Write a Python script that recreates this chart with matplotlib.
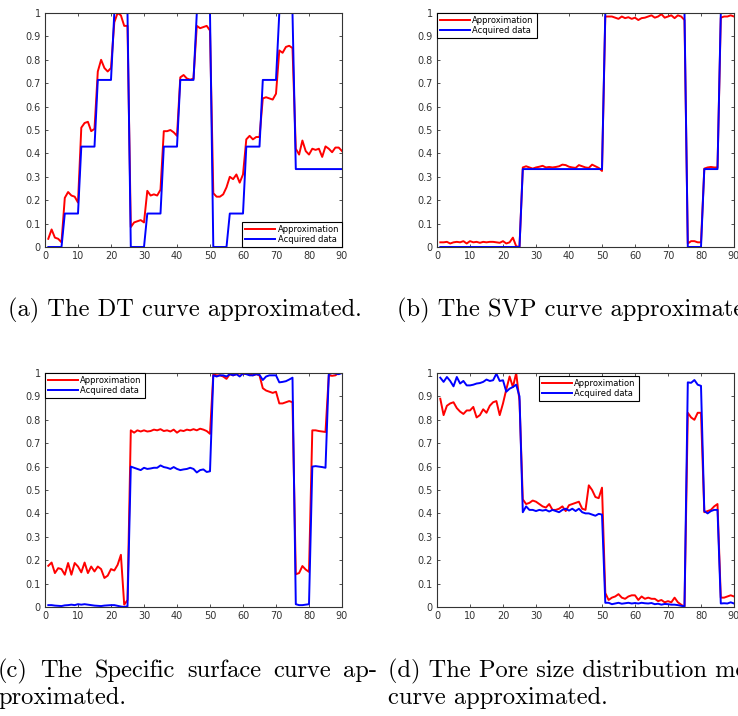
import numpy as np
import matplotlib
matplotlib.use("Agg")
import matplotlib.pyplot as plt

# sample index along the x axis
sample = np.arange(1, 91)

# (a) DT curve
dt_approx = [0.035, 0.075, 0.04, 0.035, 0.02, 0.21, 0.235, 0.22, 0.215, 0.19,
             0.51, 0.53, 0.535, 0.495, 0.505, 0.75, 0.80, 0.765, 0.75, 0.765,
             0.96, 1.0, 0.99, 0.945, 0.945, 0.085, 0.105, 0.11, 0.115, 0.105,
             0.24, 0.22, 0.225, 0.22, 0.245, 0.495, 0.495, 0.50, 0.49, 0.475,
             0.725, 0.735, 0.72, 0.715, 0.72, 0.945, 0.935, 0.94, 0.945, 0.925,
             0.23, 0.215, 0.215, 0.225, 0.255, 0.30, 0.29, 0.31, 0.275, 0.31,
             0.46, 0.475, 0.46, 0.47, 0.47, 0.635, 0.64, 0.635, 0.63, 0.655,
             0.84, 0.83, 0.855, 0.86, 0.85, 0.42, 0.395, 0.455, 0.41, 0.395,
             0.42, 0.415, 0.42, 0.385, 0.43, 0.42, 0.405, 0.425, 0.425, 0.41]
dt_data = ([0.0] * 5 + [0.143] * 5 + [0.429] * 5 + [0.714] * 5 + [1.0] * 5) * 3 \
    + [0.333] * 15

# (b) SVP curve
svp_approx = [0.02, 0.02, 0.022, 0.015, 0.02, 0.022, 0.02, 0.025, 0.015, 0.025,
              0.02, 0.022, 0.018, 0.022, 0.02, 0.022, 0.022, 0.02, 0.018, 0.025,
              0.015, 0.02, 0.04, 0.003, 0.0, 0.34, 0.345, 0.34, 0.335, 0.34,
              0.343, 0.347, 0.34, 0.342, 0.34, 0.342, 0.345, 0.352, 0.35, 0.343,
              0.34, 0.338, 0.35, 0.345, 0.34, 0.338, 0.352, 0.345, 0.338, 0.325,
              0.985, 0.985, 0.985, 0.98, 0.975, 0.985, 0.978, 0.982, 0.975, 0.98,
              0.97, 0.978, 0.98, 0.985, 0.99, 0.98, 0.985, 0.995, 0.98, 0.985,
              0.99, 0.978, 0.99, 0.985, 0.97, 0.015, 0.025, 0.025, 0.02, 0.02,
              0.335, 0.34, 0.342, 0.34, 0.34, 0.98, 0.985, 0.985, 0.99, 0.985]
svp_data = [0.0] * 25 + [0.333] * 25 + [1.0] * 25 + [0.0] * 5 + [0.333] * 5 + [1.0] * 5

# (c) Specific surface curve
ss_approx = [0.176, 0.19, 0.145, 0.166, 0.162, 0.138, 0.188, 0.138, 0.188, 0.173,
             0.148, 0.19, 0.145, 0.173, 0.152, 0.173, 0.162, 0.124, 0.134, 0.162,
             0.156, 0.18, 0.223, 0.01, 0.03, 0.755, 0.745, 0.755, 0.75, 0.755,
             0.75, 0.752, 0.758, 0.755, 0.76, 0.752, 0.755, 0.75, 0.758, 0.745,
             0.755, 0.752, 0.758, 0.755, 0.76, 0.755, 0.762, 0.758, 0.752, 0.74,
             0.995, 0.99, 0.99, 0.985, 0.975, 0.995, 0.99, 0.995, 0.998, 0.995,
             1.0, 0.995, 0.99, 0.995, 0.99, 0.935, 0.925, 0.92, 0.915, 0.92,
             0.87, 0.87, 0.875, 0.88, 0.875, 0.14, 0.145, 0.175, 0.16, 0.15,
             0.755, 0.755, 0.752, 0.75, 0.748, 0.99, 0.988, 0.99, 1.0, 1.0]
ss_data = [0.008, 0.008, 0.006, 0.005, 0.004, 0.007, 0.008, 0.01, 0.008, 0.012,
           0.01, 0.012, 0.01, 0.008, 0.006, 0.005, 0.004, 0.006, 0.007, 0.008,
           0.008, 0.005, 0.002, 0.0, 0.003, 0.6, 0.595, 0.59, 0.585, 0.595,
           0.59, 0.592, 0.595, 0.595, 0.605, 0.598, 0.595, 0.59, 0.598, 0.59,
           0.585, 0.588, 0.59, 0.595, 0.59, 0.575, 0.585, 0.588, 0.577, 0.58,
           0.99, 0.985, 0.99, 0.99, 0.985, 0.995, 0.99, 0.995, 0.985, 0.998,
           0.995, 0.99, 0.99, 0.995, 0.992, 0.97, 0.985, 0.99, 0.99, 0.99,
           0.96, 0.962, 0.965, 0.972, 0.98, 0.012, 0.008, 0.008, 0.01, 0.012,
           0.6, 0.602, 0.6, 0.598, 0.595, 0.995, 1.0, 0.998, 0.995, 1.0]

# (d) Pore size distribution curve
psd_approx = [0.89, 0.82, 0.86, 0.87, 0.875, 0.85, 0.835, 0.825, 0.84, 0.84,
              0.855, 0.81, 0.82, 0.845, 0.83, 0.86, 0.875, 0.88, 0.82, 0.87,
              0.93, 0.985, 0.94, 1.0, 0.88, 0.46, 0.44, 0.445, 0.455, 0.45,
              0.44, 0.43, 0.425, 0.44, 0.415, 0.415, 0.42, 0.43, 0.41, 0.435,
              0.44, 0.445, 0.45, 0.42, 0.415, 0.52, 0.5, 0.47, 0.465, 0.51,
              0.06, 0.03, 0.04, 0.045, 0.055, 0.04, 0.035, 0.045, 0.05, 0.05,
              0.03, 0.045, 0.035, 0.04, 0.035, 0.035, 0.025, 0.03, 0.02, 0.025,
              0.02, 0.04, 0.02, 0.01, 0.0, 0.83, 0.81, 0.8, 0.83, 0.83,
              0.405, 0.41, 0.415, 0.43, 0.44, 0.04, 0.04, 0.045, 0.05, 0.045]
psd_data = [0.98, 0.962, 0.983, 0.966, 0.943, 0.983, 0.955, 0.966, 0.947, 0.947,
            0.95, 0.955, 0.957, 0.962, 0.972, 0.966, 0.969, 0.997, 0.966, 0.969,
            0.92, 0.933, 0.94, 0.95, 0.9, 0.405, 0.43, 0.415, 0.415, 0.41,
            0.415, 0.412, 0.415, 0.408, 0.415, 0.41, 0.405, 0.415, 0.42, 0.412,
            0.42, 0.41, 0.42, 0.405, 0.40, 0.40, 0.395, 0.39, 0.398, 0.395,
            0.018, 0.018, 0.012, 0.015, 0.018, 0.014, 0.016, 0.018, 0.015, 0.017,
            0.015, 0.018, 0.016, 0.015, 0.017, 0.012, 0.014, 0.01, 0.013, 0.012,
            0.01, 0.01, 0.008, 0.005, 0.003, 0.96, 0.958, 0.97, 0.95, 0.945,
            0.41, 0.4, 0.41, 0.415, 0.415, 0.015, 0.016, 0.015, 0.02, 0.015]

series_labels = ["Approximation", "Acquired data"]
x_ticks = list(range(0, 100, 10))
y_ticks = [round(v * 0.1, 1) for v in range(11)]
y_tick_labels = ["0", "0.1", "0.2", "0.3", "0.4", "0.5", "0.6", "0.7", "0.8", "0.9", "1"]

W, H = 738, 716
fig = plt.figure(figsize=(W / 100, H / 100), dpi=100)


def add_axes_px(left, top, right, bottom):
    return fig.add_axes([left / W, 1 - bottom / H, (right - left) / W, (bottom - top) / H])


panels = [
    ((45, 13, 342, 247), dt_approx, dt_data, dict(loc="lower right")),
    ((437, 13, 734, 247), svp_approx, svp_data, dict(loc="upper left")),
    ((45, 373, 342, 607), ss_approx, ss_data, dict(loc="upper left")),
    ((437, 373, 734, 607), psd_approx, psd_data,
     dict(loc="upper left", bbox_to_anchor=(0.343, 0.987))),
]

for box, approx, data, leg_kw in panels:
    ax = add_axes_px(*box)
    ax.plot(sample, approx, color="#ff0000", lw=1.4, label=series_labels[0])
    ax.plot(sample, data, color="#0000ff", lw=1.4, label=series_labels[1])
    ax.set_xlim(0, 90)
    ax.set_ylim(0, 1)
    ax.set_xticks(x_ticks)
    ax.set_yticks(y_ticks)
    ax.set_yticklabels(y_tick_labels)
    ax.tick_params(direction="in", length=2.5, width=0.6, top=True, right=True,
                   labelsize=7, labelcolor="#333333", color="#333333", pad=3)
    for sp in ax.spines.values():
        sp.set_color("#333333")
        sp.set_linewidth(0.8)
    leg = ax.legend(fontsize=6, fancybox=False, framealpha=1, edgecolor="black",
                    borderaxespad=0, handlelength=3.6, handletextpad=0.3,
                    borderpad=0.35, labelspacing=0.15, **leg_kw)
    leg.get_frame().set_linewidth(0.8)

# sub-figure captions
cap_font = dict(family=["cmr10", "DejaVu Serif"], size=17.6, color="black", va="baseline")


def caption(x, y, s):
    return fig.text(x / W, 1 - y / H, s, ha="left", **cap_font)


def justified_line(words, left, right, y):
    # spread the words so the line fills the column from left to right
    texts = [caption(0, y, w) for w in words]
    renderer = fig.canvas.get_renderer()
    widths = [t.get_window_extent(renderer).width for t in texts]
    gap = (right - left - sum(widths)) / (len(words) - 1)
    x = left
    for t, w in zip(texts, widths):
        t.set_x(x / W)
        x += w + gap


caption(8, 316, "(a) The DT curve approximated.")
caption(397, 316, "(b) The SVP curve approximated.")

justified_line(["(c)", "The", "Specific", "surface", "curve", "ap-"], -2, 377, 677)
caption(-2, 704, "proximated.")

caption(388, 677, "(d) The Pore size distribution measurement")
caption(388, 704, "curve approximated.")

fig.savefig("out.png", dpi=100)
